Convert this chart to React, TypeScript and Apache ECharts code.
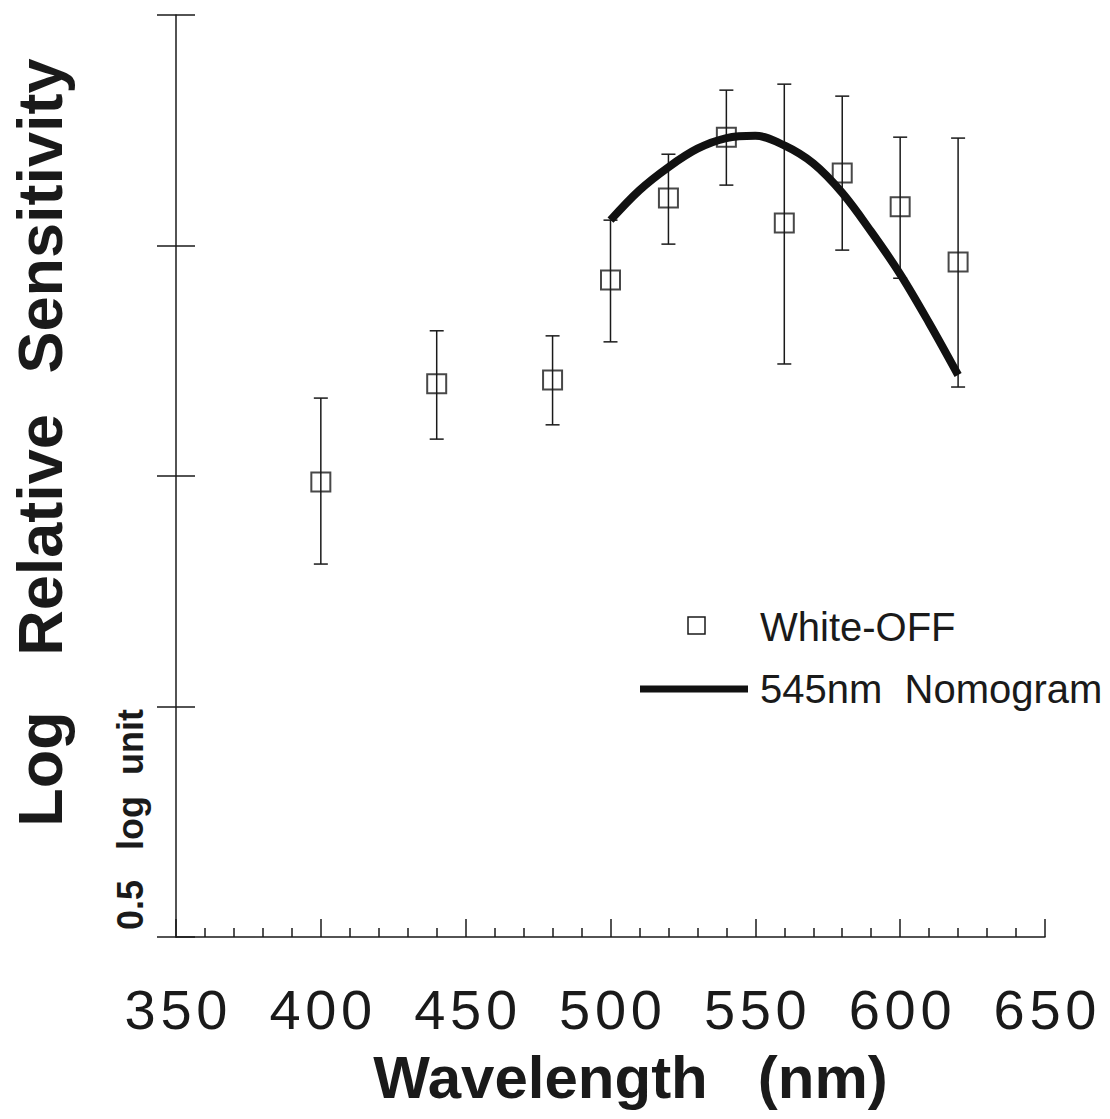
import React, { useEffect, useRef } from "react";
import * as echarts from "echarts";

// Measured points (White-OFF) with error bars
const wavelengths = [400, 440, 480, 500, 520, 540, 560, 580, 600, 620];
const means = [0.987, 1.2, 1.208, 1.425, 1.603, 1.735, 1.549, 1.657, 1.584, 1.464];
const upper = [1.169, 1.315, 1.304, 1.555, 1.698, 1.837, 1.85, 1.824, 1.735, 1.733];
const lower = [0.809, 1.08, 1.111, 1.291, 1.503, 1.631, 1.243, 1.49, 1.429, 1.193];

// 545nm nomogram curve
const nomoWl = [500, 510, 520, 530, 540, 550, 560, 570, 580, 590, 600, 610, 620];
const nomoVal = [1.555, 1.62, 1.67, 1.71, 1.733, 1.738, 1.717, 1.678, 1.614, 1.53, 1.438, 1.332, 1.219];

const xTicks = [350, 400, 450, 500, 550, 600, 650];
const yTitleWords = ["Log", "Relative", "Sensitivity"];
const scaleWords = ["0.5", "log", "unit"];
const legendLabels = ["White-OFF", "545nm  Nomogram"];

const FONT = "'Liberation Sans', Arial, Helvetica, sans-serif";
const INK = "#1a1a1a";
const W = 1110;
const H = 1119;

export default function App() {
  const ref = useRef<HTMLDivElement>(null);
  useEffect(() => {
    if (!ref.current) return;
    const chart = echarts.init(ref.current, null, { renderer: "svg", width: W, height: H });
    const points = wavelengths.map((w, i) => [w, means[i]]);
    const bars = wavelengths.map((w, i) => [w, lower[i], upper[i]]);
    const curve = nomoWl.map((w, i) => [w, nomoVal[i]]);

    const yWordCenters = [769, 535, 216];
    const scaleCenters = [905, 823, 742];

    chart.setOption({
      animation: false,
      backgroundColor: "#ffffff",
      grid: { left: 176, width: 869, top: 15, height: 922, containLabel: false },
      xAxis: {
        type: "value",
        min: 350,
        max: 650,
        interval: 50,
        name: "Wavelength   (nm)",
        nameLocation: "middle",
        nameGap: 110,
        nameTextStyle: {
          fontFamily: FONT,
          fontSize: 60,
          fontWeight: "bold",
          color: INK,
          padding: [0, 0, 0, 40],
        },
        axisLine: { show: true, lineStyle: { color: INK, width: 1.5 } },
        axisTick: { show: true, inside: true, length: 18, lineStyle: { color: INK, width: 1.5 } },
        minorTick: { show: true, splitNumber: 5, length: 9, lineStyle: { color: INK, width: 1.5 } },
        splitLine: { show: false },
        axisLabel: {
          show: true,
          margin: 44,
          fontFamily: FONT,
          fontSize: 56,
          color: INK,
          formatter: (v: number) => (xTicks.includes(v) ? String(v).split("").join("\u200A") : ""),
        },
      },
      yAxis: [
        {
          type: "value",
          min: 0,
          max: 2,
          interval: 0.5,
          axisLine: { show: true, lineStyle: { color: INK, width: 1.5 } },
          axisTick: { show: true, inside: true, length: 19, lineStyle: { color: INK, width: 1.5 } },
          axisLabel: { show: false },
          splitLine: { show: false },
        },
        {
          type: "value",
          min: 0,
          max: 2,
          interval: 0.5,
          position: "left",
          axisLine: { show: false },
          axisTick: { show: true, inside: false, length: 19, lineStyle: { color: INK, width: 1.5 } },
          axisLabel: { show: false },
          splitLine: { show: false },
        },
      ],
      series: [
        {
          type: "custom",
          name: "errors",
          z: 2,
          renderItem: (params: any, api: any) => {
            const x = api.value(0);
            const lo = api.coord([x, api.value(1)]);
            const hi = api.coord([x, api.value(2)]);
            const hw = 7;
            const st = { stroke: INK, lineWidth: 1.5 };
            return {
              type: "group",
              children: [
                { type: "line", shape: { x1: lo[0], y1: lo[1], x2: hi[0], y2: hi[1] }, style: st },
                { type: "line", shape: { x1: lo[0] - hw, y1: lo[1], x2: lo[0] + hw, y2: lo[1] }, style: st },
                { type: "line", shape: { x1: hi[0] - hw, y1: hi[1], x2: hi[0] + hw, y2: hi[1] }, style: st },
              ],
            };
          },
          encode: { x: 0, y: [1, 2] },
          data: bars,
        },
        {
          type: "scatter",
          name: "White-OFF",
          z: 3,
          symbol: "rect",
          symbolSize: 19,
          itemStyle: { color: "rgba(255,255,255,0)", borderColor: INK, borderWidth: 2 },
          data: points,
        },
        {
          type: "line",
          name: "545nm Nomogram",
          z: 4,
          smooth: 0.35,
          showSymbol: false,
          lineStyle: { color: "#111", width: 8 },
          data: curve,
        },
      ],
      graphic: [
        ...yTitleWords.map((w, i) => ({
          type: "text",
          x: 40,
          y: yWordCenters[i],
          rotation: Math.PI / 2,
          style: {
            text: w,
            fontFamily: FONT,
            fontSize: 63,
            fontWeight: "bold",
            fill: INK,
            align: "center",
            verticalAlign: "middle",
          },
        })),
        ...scaleWords.map((w, i) => ({
          type: "text",
          x: 130,
          y: scaleCenters[i],
          rotation: Math.PI / 2,
          style: {
            text: w,
            fontFamily: FONT,
            fontSize: 36,
            fontWeight: "bold",
            fill: INK,
            align: "center",
            verticalAlign: "middle",
          },
        })),
        {
          type: "rect",
          shape: { x: 688, y: 617, width: 17, height: 17 },
          style: { fill: "none", stroke: INK, lineWidth: 1.5 },
        },
        {
          type: "text",
          x: 760,
          y: 627,
          style: { text: legendLabels[0], fontFamily: FONT, fontSize: 40, fill: INK, verticalAlign: "middle" },
        },
        {
          type: "line",
          shape: { x1: 640, y1: 689, x2: 748, y2: 689 },
          style: { stroke: "#111", lineWidth: 7 },
        },
        {
          type: "text",
          x: 760,
          y: 689,
          style: { text: legendLabels[1], fontFamily: FONT, fontSize: 40, fill: INK, verticalAlign: "middle" },
        },
      ],
    });
    return () => chart.dispose();
  }, []);
  return (
    <div
      ref={ref}
      style={{ position: "fixed", left: 0, top: 0, width: W, height: H, background: "#fff" }}
    />
  );
}
